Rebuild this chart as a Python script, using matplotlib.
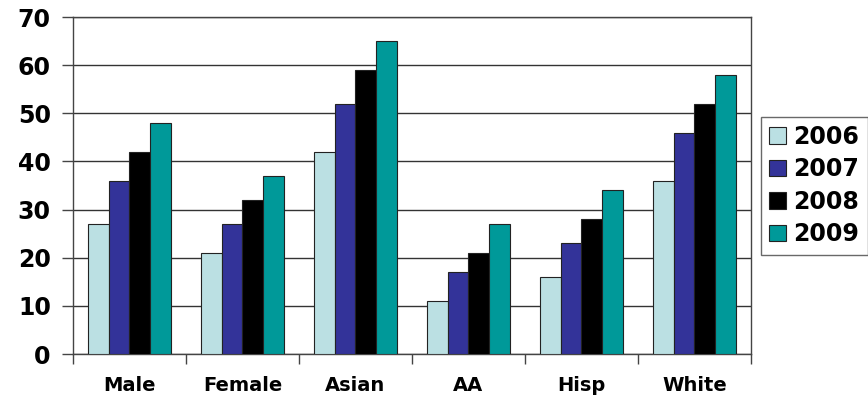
import matplotlib.pyplot as plt
import numpy as np

categories = ["Male", "Female", "Asian", "AA", "Hisp", "White"]
years = ["2006", "2007", "2008", "2009"]
v2006 = [27, 21, 42, 11, 16, 36]
v2007 = [36, 27, 52, 17, 23, 46]
v2008 = [42, 32, 59, 21, 28, 52]
v2009 = [48, 37, 65, 27, 34, 58]
colors = ["#BBE0E3", "#333399", "#000000", "#009999"]

plt.rcParams['font.family'] = 'DejaVu Sans'
plt.rcParams['font.weight'] = 'bold'

fig = plt.figure(figsize=(8.68, 3.97), dpi=100)
ax = fig.add_axes([0.0841, 0.1083, 0.7811, 0.8487])

x = np.arange(len(categories))
w = 0.182
series = [v2006, v2007, v2008, v2009]
for i, (vals, c, yr) in enumerate(zip(series, colors, years)):
    ax.bar(x + (i - 1.5) * w, vals, w, color=c, edgecolor="#222222",
           linewidth=0.8, label=yr, zorder=3)

ax.set_xlim(-0.5, len(categories) - 0.5)
ax.set_ylim(0, 70)
ax.set_yticks(range(0, 71, 10))
ax.yaxis.grid(True, color="#333333", linewidth=1.0, zorder=0)

ax.set_xticks(x)
ax.set_xticklabels(categories, fontsize=14, fontweight='bold')
ax.set_xticks(np.arange(-0.5, len(categories)), minor=True)
ax.tick_params(axis='x', which='major', length=0, pad=16)
ax.tick_params(axis='x', which='minor', length=7, width=1, color="#444444")
ax.tick_params(axis='y', length=8, width=1, color="#444444", labelsize=17, pad=8)
for lbl in ax.get_yticklabels():
    lbl.set_fontweight('bold')

for s in ['left', 'bottom', 'right', 'top']:
    ax.spines[s].set_color("#444444")
    ax.spines[s].set_linewidth(1.0)

leg = ax.legend(loc='center left', bbox_to_anchor=(1.015, 0.5), frameon=True,
                fancybox=False, edgecolor="#444444", fontsize=17,
                handlelength=0.72, handleheight=0.72, handletextpad=0.3,
                labelspacing=0.36, borderpad=0.35, borderaxespad=0)
leg.get_frame().set_linewidth(1.0)
for t in leg.get_texts():
    t.set_fontweight('bold')

fig.savefig("out.png", dpi=100)
